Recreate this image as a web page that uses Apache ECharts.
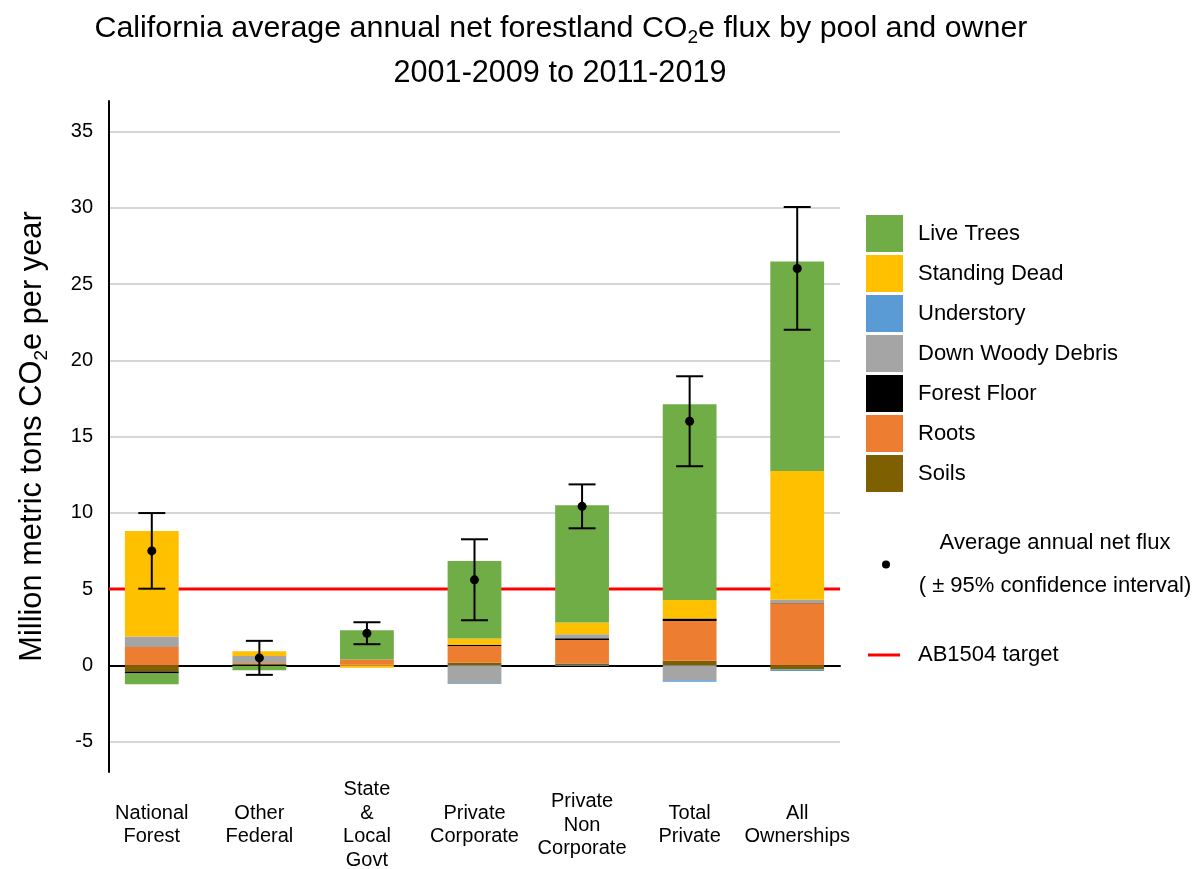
<!DOCTYPE html>
<html>
<head>
<meta charset="utf-8">
<script src="https://cdn.jsdelivr.net/npm/echarts@6/dist/echarts.min.js"></script>
<style>html,body{margin:0;padding:0;background:#fff}#c{width:1196px;height:869px}</style>
</head>
<body>
<div id="c"></div>
<script>
// ---- data ----
const categories = ['National\nForest', 'Other\nFederal', 'State\n&\nLocal\nGovt', 'Private\nCorporate', 'Private\nNon\nCorporate', 'Total\nPrivate', 'All\nOwnerships'];
const liveTrees       = [-0.71, -0.28, 1.92, 5.09, 7.69, 12.83, 13.74];
const standingDead    = [6.92, 0.32, -0.17, 0.40, 0.77, 1.22, 8.44];
const understory      = [0, 0, 0, -0.05, -0.05, -0.10, -0.10];
const downWoodyDebris = [0.68, 0.45, 0, -1.18, 0.26, -0.98, 0.22];
const forestFloor     = [-0.13, -0.05, 0, 0.08, 0.11, 0.16, 0.02];
const roots           = [1.20, 0.05, 0.33, 1.10, 1.55, 2.60, 4.06];
const soils           = [-0.41, 0.10, 0.04, 0.17, 0.11, 0.30, -0.28];
const netFlux = [7.50, 0.48, 2.10, 5.60, 10.42, 16.00, 26.02];
const ciLow   = [5.02, -0.63, 1.38, 2.95, 8.98, 13.05, 22.00];
const ciHigh  = [9.98, 1.60, 2.82, 8.26, 11.86, 18.95, 30.05];
const yTicks = [-5, 0, 5, 10, 15, 20, 25, 30, 35];
const targetValue = 5;

const FONT = 'Liberation Sans, Arial, sans-serif';
const pools = [
  { name: 'Soils', data: soils, color: '#7f6000' },
  { name: 'Roots', data: roots, color: '#ed7d31' },
  { name: 'Forest Floor', data: forestFloor, color: '#000000' },
  { name: 'Down Woody Debris', data: downWoodyDebris, color: '#a5a5a5' },
  { name: 'Understory', data: understory, color: '#5b9bd5' },
  { name: 'Standing Dead', data: standingDead, color: '#ffc000' },
  { name: 'Live Trees', data: liveTrees, color: '#70ad47' }
];

const barSeries = pools.map(p => ({
  name: p.name, type: 'bar', stack: 'pool', xAxisIndex: 0, yAxisIndex: 0,
  barWidth: '50%', itemStyle: { color: p.color }, z: 3, data: p.data
}));

const fluxData = netFlux.map((v, i) => [i, v, ciLow[i], ciHigh[i]]);

const chart = echarts.init(document.getElementById('c'), null, { renderer: 'canvas' });
chart.setOption({
  animation: false,
  backgroundColor: '#ffffff',
  title: [
    { text: 'California average annual net forestland CO{s|2}e flux by pool and owner', left: 556, top: 6, textAlign: 'center',
      textStyle: { fontFamily: FONT, fontSize: 30.4, fontWeight: 'normal', color: '#000', lineHeight: 36,
        rich: { s: { fontFamily: FONT, fontSize: 19, lineHeight: 19, verticalAlign: 'bottom', color: '#000' } } } },
    { text: '2001-2009 to 2011-2019', left: 555, top: 51, textAlign: 'center',
      textStyle: { fontFamily: FONT, fontSize: 30.6, fontWeight: 'normal', color: '#000', lineHeight: 36 } }
  ],
  grid: [
    { left: 98, right: 345, top: 101, bottom: 97, outerBoundsMode: 'none', containLabel: false },
    { left: 109, right: 356, top: 101, bottom: 97, outerBoundsMode: 'none', containLabel: false }
  ],
  xAxis: [
    { type: 'category', gridIndex: 0, data: categories,
      axisLine: { show: false, onZero: false }, axisTick: { show: false }, splitLine: { show: false },
      axisLabel: { interval: 0, color: '#000', fontFamily: FONT, fontSize: 20, lineHeight: 23.5, verticalAlign: 'middle', margin: 53 } },
    { type: 'value', gridIndex: 1, min: 0, max: 1,
      axisLine: { show: true, onZero: true, lineStyle: { color: '#000', width: 2 } },
      axisTick: { show: false }, axisLabel: { show: false }, splitLine: { show: false } }
  ],
  yAxis: [
    { type: 'value', gridIndex: 0, min: -7, max: 37, show: false, splitLine: { show: false } },
    { type: 'value', gridIndex: 1, min: -7, max: 37,
      name: 'Million metric tons CO{s|2}e per year', nameLocation: 'middle', nameGap: 58,
      nameTextStyle: { fontFamily: FONT, fontSize: 30.8, color: '#000', lineHeight: 36,
        rich: { s: { fontFamily: FONT, fontSize: 19, lineHeight: 19, verticalAlign: 'bottom', color: '#000' } } },
      axisLine: { show: true, lineStyle: { color: '#000', width: 2 } },
      axisTick: { show: false, customValues: yTicks },
      axisLabel: { customValues: yTicks, color: '#000', fontFamily: FONT, fontSize: 20, margin: 16 },
      splitLine: { show: true, lineStyle: { color: '#c8c8c8', width: 1.5 } } }
  ],
  legend: [
    { data: ['Live Trees', 'Standing Dead', 'Understory', 'Down Woody Debris', 'Forest Floor', 'Roots', 'Soils'],
      orient: 'vertical', left: 861, top: 210, itemWidth: 37, itemHeight: 37, itemGap: 3, icon: 'rect',
      selectedMode: false,
      textStyle: { fontFamily: FONT, fontSize: 22, color: '#000', padding: [0, 0, 0, 10] } },
    { data: [{ name: 'Average annual net flux', icon: 'circle' }], orient: 'vertical', left: 877, top: 527,
      itemWidth: 30, itemHeight: 8, selectedMode: false,
      formatter: function () { return '{a|Average annual net flux}\n{a|( \u00b1 95% confidence interval)}'; },
      textStyle: { fontFamily: FONT, fontSize: 22, color: '#000', width: 298,
        rich: { a: { fontFamily: FONT, fontSize: 22, color: '#000', align: 'center', lineHeight: 43 } } } },
    { data: [{ name: 'AB1504 target', icon: 'rect' }], orient: 'vertical', left: 863, top: 639, itemWidth: 32, itemHeight: 3,
      selectedMode: false,
      textStyle: { fontFamily: FONT, fontSize: 22, color: '#000', padding: [0, 0, 0, 13] } }
  ],
  series: barSeries.concat([
    { name: 'AB1504 target', type: 'line', xAxisIndex: 1, yAxisIndex: 1, z: 1,
      data: [[0, targetValue], [1, targetValue]], symbol: 'none', showSymbol: false,
      itemStyle: { color: '#ff0000' }, lineStyle: { color: '#ff0000', width: 3 } },
    { name: 'Average annual net flux', type: 'custom', xAxisIndex: 0, yAxisIndex: 0, z: 5,
      itemStyle: { color: '#000' },
      encode: { x: 0, y: [1, 2, 3] },
      data: fluxData,
      renderItem: function (params, api) {
        const c = api.coord([api.value(0), api.value(1)]);
        const lo = api.coord([api.value(0), api.value(2)]);
        const hi = api.coord([api.value(0), api.value(3)]);
        const hw = 13.5;
        const st = { stroke: '#000', lineWidth: 2, fill: null };
        return { type: 'group', children: [
          { type: 'line', shape: { x1: c[0], y1: hi[1], x2: c[0], y2: lo[1] }, style: st },
          { type: 'line', shape: { x1: c[0] - hw, y1: hi[1], x2: c[0] + hw, y2: hi[1] }, style: st },
          { type: 'line', shape: { x1: c[0] - hw, y1: lo[1], x2: c[0] + hw, y2: lo[1] }, style: st },
          { type: 'circle', shape: { cx: c[0], cy: c[1], r: 4.5 }, style: { fill: '#000' } }
        ] };
      } }
  ])
});
</script>
</body>
</html>
